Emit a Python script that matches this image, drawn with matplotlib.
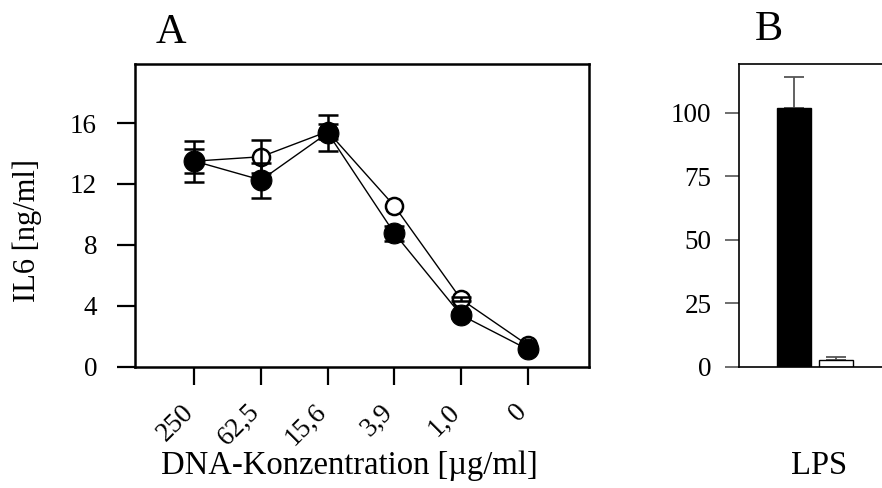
import numpy as np
import matplotlib
matplotlib.use("Agg")
import matplotlib.pyplot as plt
import matplotlib.transforms as mtransforms

plt.rcParams["font.family"] = ["Liberation Serif", "DejaVu Serif"]

# Panel A: IL6 vs. DNA concentration
conc_labels = ["250", "62,5", "15,6", "3,9", "1,0", "0"]
il6_filled = [13.5, 12.26, 15.36, 8.76, 3.39, 1.14]
err_filled = [1.35, 1.15, 1.18, 0.5, 0.2, 0.1]
il6_open = [13.5, 13.79, 15.45, 10.55, 4.43, 1.42]
err_open = [0.77, 1.1, 0.5, np.nan, 0.14, np.nan]

# Panel B: LPS control
lps_values = [101.7, 2.6]
lps_errors = [12.2, 1.1]
lps_colors = ["black", "white"]

fig = plt.figure(figsize=(8.82, 4.88), dpi=100)

# ---- panel A ----
ax = fig.add_axes([0.1525, 0.2486, 0.5153, 0.6193])
x = np.arange(len(conc_labels))

ax.plot(x, il6_open, color="black", lw=1.0, zorder=2)
ax.plot(x, il6_filled, color="black", lw=1.0, zorder=2)
ax.plot(x, il6_open, "o", ms=12.3, mfc="white", mec="black", mew=1.8, zorder=3)
ax.errorbar(x, il6_open, yerr=err_open, fmt="none", ecolor="black",
            elinewidth=1.8, capsize=7, capthick=1.8, zorder=4)
ax.errorbar(x, il6_filled, yerr=err_filled, fmt="none", ecolor="black",
            elinewidth=1.8, capsize=7, capthick=1.8, zorder=4)
ax.plot(x, il6_filled, "o", ms=15, mfc="black", mec="black", mew=0.8, zorder=5)

ax.set_xlim(-0.9, 5.92)
ax.set_ylim(0, 19.85)
ax.set_yticks([0, 4, 8, 12, 16])
ax.set_xticks(x)
ax.set_xticklabels(conc_labels, rotation=45, ha="right", va="center",
                   rotation_mode="anchor")
ax.tick_params(axis="both", direction="out", length=13, width=1.6,
               labelsize=19.5)
ax.tick_params(axis="y", pad=14)
ax.tick_params(axis="x", pad=17)
shift = mtransforms.ScaledTranslation(-3.5 / 72, 0, fig.dpi_scale_trans)
for lab in ax.get_xticklabels():
    lab.set_transform(lab.get_transform() + shift)
for s in ax.spines.values():
    s.set_linewidth(1.8)
ax.set_ylabel("IL6 [ng/ml]", fontsize=22)
ax.yaxis.set_label_coords(-0.203, 0.452)
ax.set_xlabel("DNA-Konzentration [\u00b5g/ml]", fontsize=23.5)
ax.xaxis.set_label_coords(0.472, -0.276)

# ---- panel B ----
bx = fig.add_axes([0.8382, 0.2486, 0.1652, 0.6205])
xb = np.arange(len(lps_values))
bx.bar(xb, lps_values, width=0.81, color=lps_colors, edgecolor="black",
       linewidth=1.0, zorder=2)
bx.errorbar(xb, lps_values, yerr=[[0, 0], lps_errors], fmt="none",
            ecolor="#555555", elinewidth=1.3, capsize=7.5, capthick=1.3, zorder=1)
bx.set_xlim(-1.29, 2.16)
bx.set_ylim(0, 119.2)
bx.set_yticks([0, 25, 50, 75, 100])
bx.set_xticks([])
bx.tick_params(axis="y", direction="out", length=10, width=1.2,
               color="#555555", labelsize=19.5, pad=10)
for s in bx.spines.values():
    s.set_linewidth(1.2)
bx.set_xlabel("LPS", fontsize=23.5)
bx.xaxis.set_label_coords(0.55, -0.276)

fig.text(0.1942, 1 - 43 / 488, "A", fontsize=30.5, ha="center", va="baseline")
fig.text(0.8719, 1 - 40 / 488, "B", fontsize=30.5, ha="center", va="baseline")

fig.savefig("out.png", dpi=100)
